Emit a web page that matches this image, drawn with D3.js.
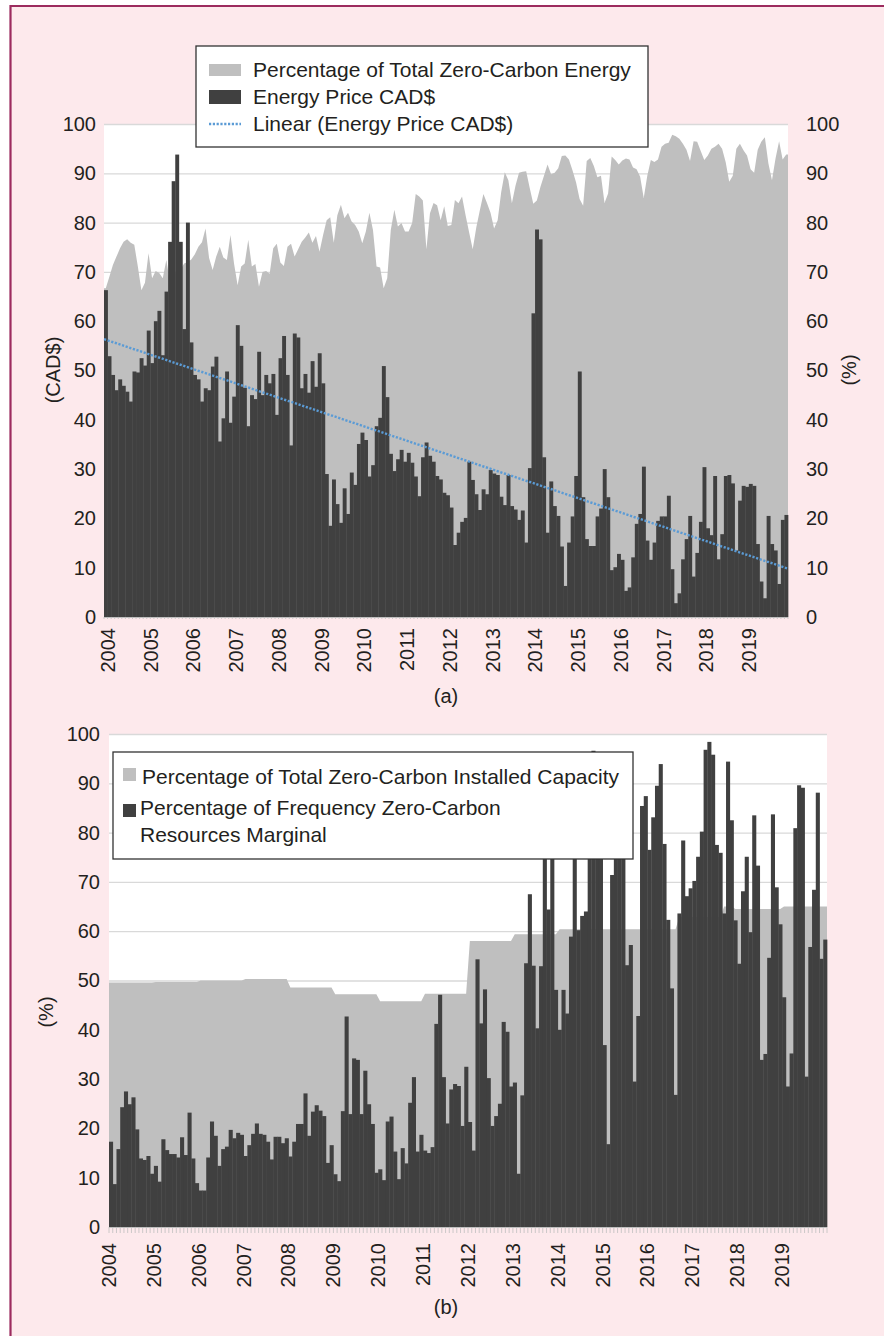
<!DOCTYPE html>
<html>
<head>
<meta charset="utf-8">
<script src="https://cdn.jsdelivr.net/npm/d3@7"></script>
<style>
  html, body { margin: 0; padding: 0; background: #ffffff; }
  svg text { font-family: "Liberation Sans", Arial, Helvetica, sans-serif; fill: #231f20; }
</style>
</head>
<body>
<svg id="fig" width="884" height="1336"></svg>
<script>
// ---- data (monthly, Jan 2004 .. Dec 2019) ----
const years = ["2004","2005","2006","2007","2008","2009","2010","2011",
               "2012","2013","2014","2015","2016","2017","2018","2019"];
const yTicks = [0, 10, 20, 30, 40, 50, 60, 70, 80, 90, 100];

// (a) percentage of total zero-carbon energy (%)
const zeroCarbonEnergy = [
  66.7, 69.0, 71.4, 73.1, 74.8, 76.1, 76.6, 75.9, 75.5, 71.1, 66.3, 67.8,
  73.8, 68.7, 70.2, 69.8, 68.7, 72.4, 67.8, 68.4, 71.0, 70.5, 71.7, 72.0,
  72.5, 73.6, 75.1, 76.0, 78.8, 72.8, 70.4, 73.1, 75.1, 72.9, 72.4, 77.5,
  71.7, 67.3, 71.1, 71.7, 76.5, 71.1, 71.6, 67.0, 70.0, 70.2, 69.6, 74.8,
  75.7, 71.9, 71.2, 75.1, 75.7, 73.1, 74.6, 76.1, 77.0, 78.0, 75.9, 77.3,
  74.1, 77.5, 80.5, 81.1, 75.9, 81.5, 83.6, 80.9, 82.0, 80.2, 79.5, 78.2,
  75.8, 78.2, 82.0, 78.5, 71.1, 70.9, 66.7, 68.7, 78.5, 82.6, 79.2, 79.9,
  78.2, 78.2, 79.9, 85.8, 85.3, 84.5, 74.6, 81.9, 84.0, 83.5, 80.5, 83.3,
  79.3, 79.5, 84.6, 83.9, 85.3, 81.5, 78.0, 74.6, 79.0, 82.5, 85.8, 84.0,
  82.0, 78.8, 80.5, 86.2, 90.2, 88.6, 83.9, 87.5, 90.1, 90.3, 90.4, 87.0,
  83.8, 84.5, 87.2, 89.5, 91.8, 89.8, 90.1, 91.0, 93.5, 93.6, 92.8, 90.6,
  88.2, 84.8, 83.4, 92.5, 93.1, 91.5, 89.2, 89.5, 84.0, 85.9, 93.4, 92.7,
  91.8, 92.6, 93.0, 92.8, 91.2, 90.8, 89.3, 85.0, 89.5, 92.7, 92.3, 92.8,
  95.4, 96.0, 96.2, 97.8, 97.5, 97.0, 96.0, 94.8, 92.5, 96.5, 96.4, 94.5,
  92.7, 93.6, 95.0, 95.4, 96.0, 95.0, 92.3, 88.3, 89.5, 95.0, 96.0, 94.7,
  93.6, 90.8, 90.1, 94.8, 96.4, 97.3, 92.0, 88.6, 93.0, 96.5, 92.8, 93.8
];

// (a) energy price (CAD$)
const energyPrice = [
  66.3, 52.9, 49.1, 46.0, 48.2, 46.9, 45.7, 43.7, 49.8, 49.6, 52.5, 51.0,
  58.1, 51.5, 60.0, 62.1, 53.1, 66.0, 76.1, 88.4, 93.8, 76.1, 58.4, 80.0,
  55.7, 49.1, 48.2, 43.7, 46.4, 46.0, 50.8, 52.8, 35.6, 40.3, 49.8, 39.4,
  44.7, 59.2, 55.0, 46.5, 38.7, 45.0, 44.2, 53.8, 45.0, 49.1, 47.4, 49.3,
  41.0, 52.5, 57.0, 49.1, 34.8, 57.5, 56.7, 46.4, 49.3, 45.5, 51.9, 46.7,
  53.5, 47.4, 29.0, 18.5, 27.9, 22.9, 19.1, 26.1, 20.9, 29.3, 26.8, 35.1,
  37.4, 35.9, 28.5, 30.8, 38.7, 40.4, 50.9, 44.6, 33.1, 29.6, 32.0, 33.9,
  31.5, 33.3, 31.3, 28.5, 24.5, 32.4, 35.4, 32.7, 31.5, 28.6, 27.9, 25.2,
  24.7, 22.2, 14.6, 17.1, 19.3, 20.1, 31.5, 27.8, 24.9, 21.7, 25.9, 24.9,
  29.8, 29.1, 28.8, 24.4, 22.7, 28.8, 22.5, 21.8, 19.7, 21.6, 15.1, 30.2,
  61.6, 78.6, 76.6, 32.4, 17.1, 27.5, 22.5, 20.5, 14.3, 6.3, 15.1, 20.4,
  28.6, 49.8, 24.3, 15.8, 14.4, 14.4, 20.4, 22.0, 30.0, 24.3, 9.5, 10.1,
  12.8, 11.6, 5.3, 6.0, 12.1, 18.9, 20.9, 30.5, 15.5, 11.6, 15.1, 19.5,
  20.4, 20.4, 24.6, 9.7, 2.8, 4.8, 11.7, 15.8, 20.5, 8.2, 13.0, 19.3,
  30.4, 18.0, 16.6, 28.6, 11.7, 16.8, 28.6, 28.8, 27.1, 13.5, 23.6, 26.6,
  26.4, 27.0, 26.6, 14.8, 7.2, 3.8, 20.5, 14.8, 13.5, 6.7, 19.7, 20.7
];

// (b) percentage of total zero-carbon installed capacity (%)
const installedCapacity = [
  49.6, 49.6, 49.6, 49.6, 49.6, 49.6, 49.6, 49.6, 49.6, 49.6, 49.6, 49.6,
  49.7, 49.7, 49.7, 49.7, 49.7, 49.7, 49.7, 49.7, 49.7, 49.7, 49.7, 49.7,
  50.0, 50.0, 50.0, 50.0, 50.0, 50.0, 50.0, 50.0, 50.0, 50.0, 50.0, 50.0,
  50.3, 50.3, 50.3, 50.3, 50.3, 50.3, 50.3, 50.3, 50.3, 50.3, 50.3, 50.3,
  48.6, 48.6, 48.6, 48.6, 48.6, 48.6, 48.6, 48.6, 48.6, 48.6, 48.6, 48.6,
  47.2, 47.2, 47.2, 47.2, 47.2, 47.2, 47.2, 47.2, 47.2, 47.2, 47.2, 47.2,
  45.8, 45.8, 45.8, 45.8, 45.8, 45.8, 45.8, 45.8, 45.8, 45.8, 45.8, 45.8,
  47.3, 47.3, 47.3, 47.3, 47.3, 47.3, 47.3, 47.3, 47.3, 47.3, 47.3, 47.3,
  58.0, 58.0, 58.0, 58.0, 58.0, 58.0, 58.0, 58.0, 58.0, 58.0, 58.0, 58.0,
  59.4, 59.4, 59.4, 59.4, 59.4, 59.4, 59.4, 59.4, 59.4, 59.4, 59.4, 59.4,
  60.4, 60.4, 60.4, 60.4, 60.4, 60.4, 60.4, 60.4, 60.4, 60.4, 60.4, 60.4,
  60.4, 60.4, 60.4, 60.4, 60.4, 60.4, 60.4, 60.4, 60.4, 60.4, 60.4, 60.4,
  60.4, 60.4, 60.4, 60.4, 60.4, 60.4, 60.4, 60.4, 62.9, 62.9, 62.9, 62.9,
  62.9, 62.9, 62.9, 62.9, 62.9, 62.9, 62.9, 62.9, 65.0, 65.0, 65.0, 64.5,
  64.5, 64.5, 64.5, 64.5, 64.5, 64.5, 64.5, 64.5, 64.5, 64.5, 64.5, 64.5,
  65.0, 65.0, 65.0, 65.0, 65.0, 65.0, 65.0, 65.0, 65.0, 65.0, 65.0, 65.0
];

// (b) percentage of frequency zero-carbon resources marginal (%)
const marginalFrequency = [
  17.3, 8.7, 15.8, 24.3, 27.5, 24.9, 26.3, 19.8, 13.9, 13.6, 14.4, 10.8,
  12.4, 9.2, 17.8, 15.6, 14.8, 14.8, 14.1, 18.2, 14.6, 23.2, 13.9, 8.9,
  7.4, 7.4, 14.1, 21.4, 18.5, 12.4, 15.8, 16.3, 19.7, 18.0, 19.1, 18.7,
  14.4, 16.6, 18.9, 21.0, 18.9, 18.7, 17.3, 13.7, 18.3, 18.3, 17.0, 18.0,
  14.3, 17.3, 20.9, 20.9, 27.1, 18.5, 23.4, 24.7, 23.6, 22.5, 13.0, 16.6,
  10.7, 9.3, 23.5, 42.7, 22.9, 34.2, 33.9, 22.9, 31.7, 24.9, 20.9, 11.0,
  11.7, 9.5, 21.4, 22.4, 15.3, 9.7, 16.0, 12.9, 25.2, 30.4, 15.3, 18.7,
  15.5, 15.0, 16.2, 41.2, 47.1, 30.4, 21.0, 27.9, 29.0, 28.6, 20.5, 32.5,
  21.3, 15.5, 54.3, 41.3, 48.2, 30.2, 20.5, 22.5, 25.0, 41.6, 39.6, 28.5,
  29.3, 10.8, 26.7, 53.5, 67.5, 53.0, 40.3, 52.9, 76.0, 64.4, 76.0, 48.1,
  40.0, 48.1, 43.3, 58.9, 76.5, 60.2, 63.1, 64.0, 80.0, 96.6, 85.0, 80.0,
  36.9, 16.8, 71.4, 80.0, 86.0, 78.0, 53.1, 57.2, 29.5, 42.8, 85.4, 87.4,
  76.5, 83.1, 89.5, 93.9, 77.7, 62.3, 48.4, 26.8, 63.6, 78.4, 67.1, 68.7,
  70.2, 75.1, 80.2, 96.8, 98.4, 95.8, 77.5, 75.9, 63.6, 94.4, 82.5, 62.2,
  53.4, 68.1, 75.1, 59.8, 83.5, 73.3, 33.9, 35.1, 54.6, 83.7, 68.9, 61.4,
  46.6, 28.5, 35.2, 80.9, 89.6, 89.1, 30.5, 56.8, 68.4, 88.1, 54.4, 58.3
];

const legendA = ["Percentage of Total Zero-Carbon Energy", "Energy Price CAD$", "Linear (Energy Price CAD$)"];
const legendB = ["Percentage of Total Zero-Carbon Installed Capacity",
                 "Percentage of Frequency Zero-Carbon", "Resources Marginal"];

const GREY = "#bfbfbf", DARK = "#404040", GRID = "#d9d9d9", PINK = "#fde9ec";

const svg = d3.select("#fig");

// page frame
svg.append("rect").attr("x", 10).attr("y", 5).attr("width", 874).attr("height", 1331).attr("fill", PINK);
svg.append("line").attr("x1", 10).attr("x2", 884).attr("y1", 6).attr("y2", 6)
   .attr("stroke", "#9c2b5e").attr("stroke-width", 2.2);
svg.append("line").attr("x1", 10.5).attr("x2", 10.5).attr("y1", 5).attr("y2", 1336)
   .attr("stroke", "#9c2b5e").attr("stroke-width", 2.2);

/**
 * draws one panel: white plot, grid, grey area, dark columns and axes
 */
function drawPanel(p) {
  const n = p.bars.length;
  const x = d3.scaleBand().domain(d3.range(n)).range([p.left, p.right]).padding(0);
  const xi = d3.scaleLinear().domain([-0.5, n - 0.5]).range([p.left, p.right]);
  const y = d3.scaleLinear().domain([0, 100]).range([p.bottom, p.top]);
  const g = svg.append("g");

  g.append("rect").attr("x", p.left).attr("y", p.top)
   .attr("width", p.right - p.left).attr("height", p.bottom - p.top).attr("fill", "#fff");

  // gridlines
  g.append("g").attr("transform", `translate(${p.left},0)`)
   .call(d3.axisLeft(y).tickValues(yTicks.slice(1)).tickSize(-(p.right - p.left)).tickFormat(""))
   .call(s => s.select(".domain").remove())
   .call(s => s.selectAll("line").attr("stroke", GRID).attr("stroke-width", 1.3));

  // grey area
  const pts = [[-0.5, p.area[0]]].concat(p.area.map((v, i) => [i, v]), [[n - 0.5, p.area[n - 1]]]);
  g.append("path").datum(pts)
   .attr("fill", GREY)
   .attr("d", d3.area().x(d => xi(d[0])).y0(y(0)).y1(d => y(d[1])));

  // columns
  g.append("g").selectAll("rect").data(p.bars).join("rect")
   .attr("x", (d, i) => x(i)).attr("width", x.bandwidth() + 0.35)
   .attr("y", d => y(d)).attr("height", d => y(0) - y(d))
   .attr("fill", DARK);

  // axis line and monthly ticks
  g.append("line").attr("x1", p.left).attr("x2", p.right).attr("y1", y(0) + 0.5).attr("y2", y(0) + 0.5)
   .attr("stroke", GREY).attr("stroke-width", 1);
  g.append("g").selectAll("line").data(d3.range(n + 1)).join("line")
   .attr("x1", d => xi(d - 0.5)).attr("x2", d => xi(d - 0.5))
   .attr("y1", y(0)).attr("y2", y(0) + p.minorTick)
   .attr("stroke", GREY).attr("stroke-width", 0.8);

  // y labels
  g.append("g").attr("transform", `translate(${p.left},0)`)
   .call(d3.axisLeft(y).tickValues(yTicks).tickSize(0).tickPadding(p.leftPad))
   .call(s => s.select(".domain").remove())
   .call(s => s.selectAll("text").attr("font-size", 20).attr("font-family", null).attr("fill", "#231f20"));

  // year labels
  const jan = d3.range(0, n, 12);
  g.append("g").attr("transform", `translate(0,${y(0)})`)
   .call(d3.axisBottom(x).tickValues(jan).tickFormat(i => years[i / 12]).tickSize(0))
   .call(s => s.select(".domain").remove())
   .call(s => s.selectAll("text")
      .attr("font-size", 20).attr("font-family", null).attr("fill", "#231f20")
      .attr("transform", "rotate(-90)").attr("text-anchor", "end")
      .attr("x", -p.labelGap).attr("y", p.labelShift).attr("dy", "0.35em"));

  return { x, xi, y, g };
}

// ---------- panel (a) ----------
const pa = drawPanel({
  left: 104, right: 788, top: 124, bottom: 617,
  area: zeroCarbonEnergy, bars: energyPrice,
  minorTick: 2, leftPad: 8, labelGap: 11, labelShift: 2
});

// right % axis
pa.g.append("g").attr("transform", "translate(788,0)")
  .call(d3.axisRight(pa.y).tickValues(yTicks).tickSize(0).tickPadding(18))
  .call(s => s.select(".domain").remove())
  .call(s => s.selectAll("text").attr("font-size", 20).attr("font-family", null).attr("fill", "#231f20"));

// linear trend of energy price (least squares)
const idx = d3.range(energyPrice.length);
const mx = d3.mean(idx), my = d3.mean(energyPrice);
const slope = d3.sum(idx, i => (i - mx) * (energyPrice[i] - my)) / d3.sum(idx, i => (i - mx) ** 2);
const icpt = my - slope * mx;
const trendEnds = [-0.5, energyPrice.length - 0.5];
pa.g.append("path").datum(trendEnds)
  .attr("fill", "none").attr("stroke", "#5b9bd5").attr("stroke-width", 2.4)
  .attr("stroke-dasharray", "2.2,1.6")
  .attr("d", d3.line().x(d => pa.xi(d)).y(d => pa.y(icpt + slope * d)));

// axis titles and caption
svg.append("text").attr("transform", "translate(53,370) rotate(-90)")
   .attr("text-anchor", "middle").attr("dy", "0.35em").attr("font-size", 20).text("(CAD$)");
svg.append("text").attr("transform", "translate(849,370) rotate(-90)")
   .attr("text-anchor", "middle").attr("dy", "0.35em").attr("font-size", 20).text("(%)");
svg.append("text").attr("x", 446).attr("y", 696).attr("text-anchor", "middle")
   .attr("dy", "0.35em").attr("font-size", 20).text("(a)");

// legend (a)
const la = svg.append("g");
la.append("rect").attr("x", 196).attr("y", 46).attr("width", 452).attr("height", 101)
  .attr("fill", "#fff").attr("stroke", "#333").attr("stroke-width", 1.3);
la.append("rect").attr("x", 209).attr("y", 64).attr("width", 32).attr("height", 12).attr("fill", GREY);
la.append("rect").attr("x", 209).attr("y", 90).attr("width", 32).attr("height", 14).attr("fill", DARK);
la.append("line").attr("x1", 209).attr("x2", 241).attr("y1", 124).attr("y2", 124)
  .attr("stroke", "#5b9bd5").attr("stroke-width", 2.4).attr("stroke-dasharray", "2.2,1.6");
la.selectAll("text").data(legendA).join("text")
  .attr("x", 253).attr("y", (d, i) => 70 + i * 27).attr("dy", "0.35em")
  .attr("font-size", 21).text(d => d);

// ---------- panel (b) ----------
drawPanel({
  left: 109, right: 827, top: 734, bottom: 1227,
  area: installedCapacity, bars: marginalFrequency,
  minorTick: 6, leftPad: 9, labelGap: 16, labelShift: -1.9
});

svg.append("text").attr("transform", "translate(46,1012) rotate(-90)")
   .attr("text-anchor", "middle").attr("dy", "0.35em").attr("font-size", 20).text("(%)");
svg.append("text").attr("x", 446).attr("y", 1307).attr("text-anchor", "middle")
   .attr("dy", "0.35em").attr("font-size", 20).text("(b)");

// legend (b)
const lb = svg.append("g");
lb.append("rect").attr("x", 113).attr("y", 752).attr("width", 520).attr("height", 107)
  .attr("fill", "#fff").attr("stroke", "#333").attr("stroke-width", 1.3);
lb.append("rect").attr("x", 123).attr("y", 768).attr("width", 13).attr("height", 13).attr("fill", GREY);
lb.append("rect").attr("x", 123).attr("y", 804).attr("width", 13).attr("height", 13).attr("fill", DARK);
lb.selectAll("text").data(legendB).join("text")
  .attr("x", (d, i) => i === 0 ? 142 : 140)
  .attr("y", (d, i) => [777, 808, 835][i]).attr("dy", "0.35em")
  .attr("font-size", 21).text(d => d);
</script>
</body>
</html>
